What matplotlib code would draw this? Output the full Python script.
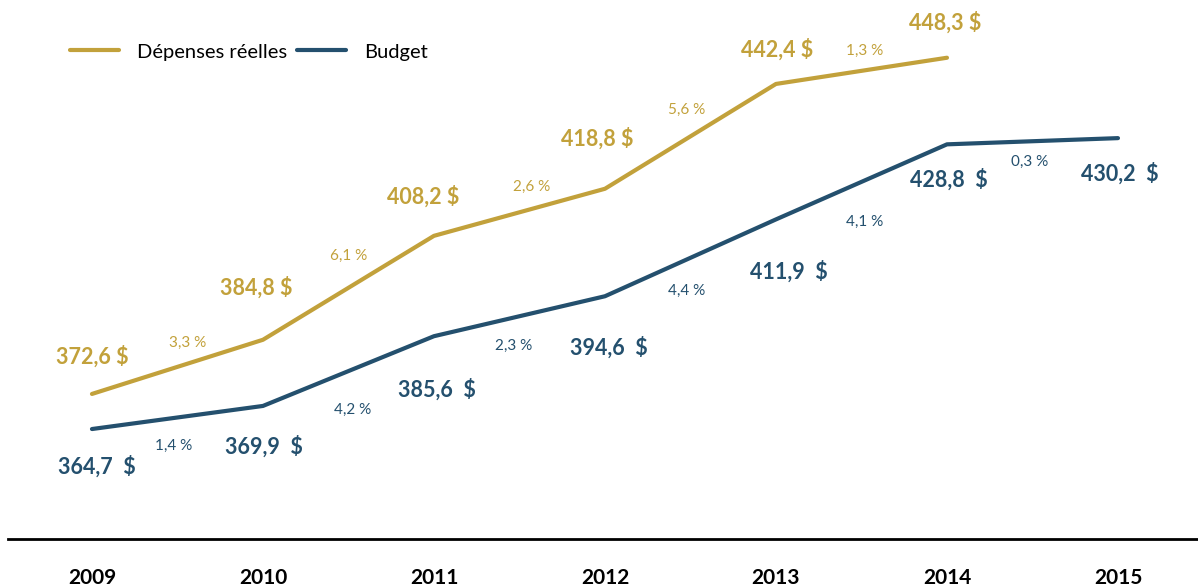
import matplotlib
matplotlib.use('Agg')
import matplotlib.pyplot as plt

years = [2009, 2010, 2011, 2012, 2013, 2014, 2015]
depenses = [372.6, 384.8, 408.2, 418.8, 442.4, 448.3]
budget = [364.7, 369.9, 385.6, 394.6, 411.9, 428.8, 430.2]
depenses_pct = ['3,3 %', '6,1 %', '2,6 %', '5,6 %', '1,3 %']
budget_pct = ['1,4 %', '4,2 %', '2,3 %', '4,4 %', '4,1 %', '0,3 %']

GOLD = '#C2A13B'
BLUE = '#24506E'

# label offsets in pixels from the point (values) or segment midpoint (growth)
dep_val_off = [(0, 37), (-7, 52), (-11, 39), (-8, 50), (1, 34), (-2, 35)]
dep_pct_off = [(10, 24), (0, 32), (12, 25), (-4, 26), (3, 20)]
bud_val_off = [(5, -38), (1, -41), (3, -53), (4, -51), (13, -52), (2, -35), (2, -35)]
bud_pct_off = [(-4, -28), (4, -39), (-6, -30), (-4, -33), (3, -40), (-3, -21)]

plt.rcParams['font.family'] = ['Lato', 'DejaVu Sans']

fig = plt.figure(figsize=(11.98, 5.88), dpi=100)
ax = fig.add_axes([8 / 1198, 49 / 588, 1190 / 1198, 539 / 588])
ax.set_xlim(2008.509, 2015.468)
ax.set_ylim(339.94, 461.3)

ax.plot(years[:len(depenses)], depenses, color=GOLD, lw=3.0,
        solid_capstyle='round', label='Dépenses réelles')
ax.plot(years, budget, color=BLUE, lw=3.0,
        solid_capstyle='round', label='Budget')


def annotate_series(xs, vals, texts, offs, color, size, weight):
    for x, v, t, (dx, dy) in zip(xs, vals, texts, offs):
        ax.annotate(t, (x, v), xytext=(dx, dy), textcoords='offset pixels',
                    ha='center', va='center', color=color,
                    fontsize=size, fontweight=weight)


annotate_series(years, depenses, [f'{v:.1f} $'.replace('.', ',') for v in depenses],
                dep_val_off, GOLD, 15.5, 'bold')
annotate_series(years, budget, [f'{v:.1f}  $'.replace('.', ',') for v in budget],
                bud_val_off, BLUE, 15.5, 'bold')

mid_x = [y + 0.5 for y in years[:-1]]
dep_mid = [(a + b) / 2 for a, b in zip(depenses[:-1], depenses[1:])]
bud_mid = [(a + b) / 2 for a, b in zip(budget[:-1], budget[1:])]
annotate_series(mid_x, dep_mid, depenses_pct, dep_pct_off, GOLD, 11, 'normal')
annotate_series(mid_x, bud_mid, budget_pct, bud_pct_off, BLUE, 11, 'normal')

for s in ['top', 'right', 'left']:
    ax.spines[s].set_visible(False)
ax.spines['bottom'].set_linewidth(2.0)
ax.spines['bottom'].set_color('black')
ax.set_yticks([])
ax.set_xticks(years)
ax.set_xticklabels([str(y) for y in years], fontsize=15, fontweight='bold')
ax.tick_params(axis='x', length=0, pad=21)

leg = ax.legend(loc='center left', ncol=2,
                frameon=False, fontsize=14.5, handlelength=2.45,
                handletextpad=0.9, columnspacing=0.45,
                borderaxespad=0, borderpad=0)
leg.set_bbox_to_anchor((70 / 1198, 1 - 52 / 588), transform=fig.transFigure)

fig.savefig('out.png', dpi=100)
